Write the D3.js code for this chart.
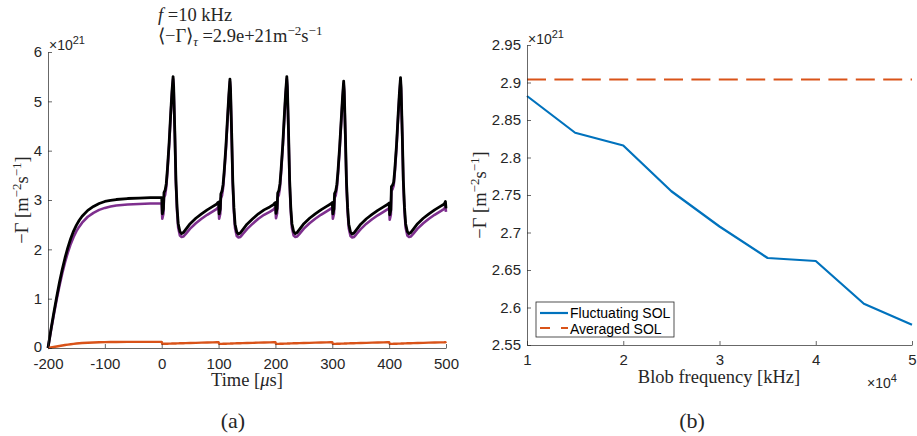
<!DOCTYPE html>
<html><head><meta charset="utf-8">
<script src="https://cdn.jsdelivr.net/npm/d3@7"></script>
<style>
body{margin:0;background:#fff;}
svg{display:block;}
.tick text{font-family:"Liberation Sans",Arial,sans-serif;font-size:15px;fill:#262626;}
.serif{font-family:"Liberation Serif","Times New Roman",serif;fill:#262626;}
</style></head>
<body>
<svg id="chart" width="917" height="436"></svg>
<script>
// ---------- Panel (a) data ----------
const timeUs = [
 -200,-195,-190,-185,-180,-175,-170,-165,-160,-155,-150,-145,-140,-130,-120,-110,-100,-90,-80,-60,-40,-20,
 0,1,3,4,6,8,10,13,16,18,20,21,23,25,27,29,32,35,38,42,50,60,70,80,90,97,99,
 100,101,103,104,106,108,110,113,116,118,120,121,123,125,127,129,132,135,138,142,150,160,170,180,190,197,199,
 200,201,203,204,206,208,210,213,216,218,220,221,223,225,227,229,232,235,238,242,250,260,270,280,290,297,299,
 300,301,303,304,306,308,310,313,316,318,320,321,323,325,327,329,332,335,338,342,350,360,370,380,390,397,399,
 400,401,403,404,406,408,410,413,416,418,420,421,423,425,427,429,432,435,438,442,450,460,470,480,490,497,499,
 500
];
const fluxBlack = [
 0,0.36,0.70,1.02,1.32,1.59,1.83,2.04,2.22,2.37,2.49,2.59,2.67,2.79,2.87,2.93,2.97,2.99,3.01,3.03,3.04,3.05,
 3.05,2.72,2.82,3.15,3.20,3.33,3.62,4.15,4.80,5.20,5.50,5.30,4.40,3.40,2.85,2.52,2.36,2.32,2.34,2.40,2.52,2.63,2.72,2.80,2.87,2.92,2.95,
 2.96,2.72,2.82,3.12,3.18,3.32,3.60,4.10,4.72,5.12,5.45,5.26,4.36,3.38,2.84,2.51,2.35,2.31,2.33,2.39,2.51,2.62,2.72,2.80,2.86,2.91,2.94,
 2.95,2.73,2.83,3.14,3.19,3.33,3.62,4.14,4.78,5.18,5.50,5.30,4.40,3.40,2.85,2.52,2.36,2.32,2.34,2.40,2.52,2.63,2.72,2.80,2.87,2.92,2.94,
 2.95,2.72,2.82,3.13,3.18,3.31,3.58,4.08,4.68,5.08,5.41,5.22,4.33,3.36,2.84,2.51,2.35,2.31,2.33,2.39,2.51,2.62,2.71,2.79,2.86,2.91,2.93,
 2.94,2.70,2.80,3.27,3.30,3.36,3.62,4.12,4.76,5.16,5.48,5.28,4.38,3.39,2.85,2.52,2.36,2.32,2.34,2.40,2.52,2.63,2.72,2.80,2.87,2.92,2.97,
 2.83
];
const fluxPurple = [
 0,0.34,0.66,0.97,1.25,1.51,1.74,1.94,2.11,2.25,2.37,2.46,2.54,2.66,2.74,2.80,2.84,2.87,2.89,2.91,2.92,2.93,
 2.93,2.62,2.72,3.05,3.10,3.26,3.56,4.10,4.75,5.15,5.45,5.25,4.35,3.32,2.77,2.44,2.28,2.25,2.26,2.31,2.42,2.53,2.62,2.70,2.77,2.82,2.85,
 2.85,2.62,2.72,3.03,3.09,3.25,3.54,4.05,4.67,5.07,5.40,5.21,4.31,3.30,2.76,2.43,2.27,2.24,2.25,2.30,2.41,2.52,2.62,2.70,2.76,2.81,2.84,
 2.84,2.63,2.73,3.05,3.10,3.26,3.56,4.09,4.73,5.13,5.45,5.25,4.35,3.32,2.77,2.44,2.28,2.25,2.26,2.31,2.42,2.53,2.62,2.70,2.77,2.82,2.84,
 2.84,2.62,2.72,3.04,3.09,3.24,3.52,4.03,4.63,5.03,5.36,5.17,4.28,3.28,2.76,2.43,2.27,2.24,2.25,2.30,2.41,2.52,2.61,2.69,2.76,2.81,2.83,
 2.83,2.60,2.70,3.18,3.22,3.29,3.56,4.07,4.71,5.11,5.43,5.23,4.33,3.31,2.77,2.44,2.28,2.25,2.26,2.31,2.42,2.53,2.62,2.70,2.77,2.82,2.87,
 2.76
];
const fluxOrange = [
 0,0.01,0.02,0.03,0.04,0.05,0.06,0.068,0.076,0.083,0.09,0.096,0.1,0.107,0.112,0.116,0.119,0.121,0.122,0.124,0.125,0.125,
 0.125,0.085,0.085,0.085,0.086,0.086,0.087,0.088,0.089,0.09,0.09,0.09,0.091,0.092,0.093,0.094,0.095,0.096,0.097,0.098,0.1,0.104,0.108,0.111,0.114,0.116,0.117,
 0.117,0.083,0.083,0.084,0.084,0.085,0.086,0.087,0.088,0.089,0.089,0.09,0.091,0.092,0.093,0.094,0.095,0.096,0.097,0.098,0.1,0.104,0.108,0.111,0.114,0.116,0.117,
 0.117,0.083,0.083,0.084,0.084,0.085,0.086,0.087,0.088,0.089,0.089,0.09,0.091,0.092,0.093,0.094,0.095,0.096,0.097,0.098,0.1,0.104,0.108,0.111,0.114,0.116,0.117,
 0.117,0.083,0.083,0.084,0.084,0.085,0.086,0.087,0.088,0.089,0.089,0.09,0.091,0.092,0.093,0.094,0.095,0.096,0.097,0.098,0.1,0.104,0.108,0.111,0.114,0.116,0.117,
 0.117,0.083,0.083,0.084,0.084,0.085,0.086,0.087,0.088,0.089,0.089,0.09,0.091,0.092,0.093,0.094,0.095,0.096,0.097,0.098,0.1,0.104,0.108,0.111,0.114,0.116,0.118,
 0.1
];
const xTicksA = [-200,-100,0,100,200,300,400,500];
const yTicksA = [0,1,2,3,4,5,6];

// ---------- Panel (b) data ----------
const blobFreq = [1,1.5,2,2.5,3,3.5,4,4.5,5];          // x 10^4
const fluxFluctuating = [2.882,2.833,2.816,2.755,2.708,2.666,2.662,2.605,2.577]; // x 10^21
const freqAveraged = [1,5];
const fluxAveraged = [2.904,2.904];
const xTicksB = [1,2,3,4,5];
const yTicksB = [2.55,2.6,2.65,2.7,2.75,2.8,2.85,2.9,2.95];
const legendLabels = ["Fluctuating SOL","Averaged SOL"];

const svg = d3.select("#chart");
const axisColor = "#262626";
const serifSize = "18.5px";

function styleAxis(g){
  g.select(".domain").attr("stroke",axisColor).attr("stroke-width",0.7);
  g.selectAll(".tick line").attr("stroke",axisColor).attr("stroke-width",0.7);
}

// ================= Panel (a) =================
const xA = d3.scaleLinear().domain([-200,500]).range([48,446]);
const yA = d3.scaleLinear().domain([0,6]).range([348,52]);

const lineA = (vals) => d3.line().x((d,i)=>xA(timeUs[i])).y(d=>yA(d))(vals);

svg.append("path").attr("d",lineA(fluxPurple)).attr("fill","none")
  .attr("stroke","#7E2F8E").attr("stroke-width",2.6).attr("stroke-linejoin","round");
svg.append("path").attr("d",lineA(fluxBlack)).attr("fill","none")
  .attr("stroke","#000").attr("stroke-width",2.8).attr("stroke-linejoin","round");
svg.append("path").attr("d",lineA(fluxOrange)).attr("fill","none")
  .attr("stroke","#D95319").attr("stroke-width",2.4).attr("stroke-linejoin","round");

const gxA = svg.append("g").attr("transform","translate(0,348)")
  .call(d3.axisBottom(xA).tickValues(xTicksA).tickFormat(d=>String(d)).tickSizeInner(-4).tickSizeOuter(0).tickPadding(10));
styleAxis(gxA);
const gyA = svg.append("g").attr("transform","translate(48,0)")
  .call(d3.axisLeft(yA).tickValues(yTicksA).tickFormat(d=>String(d)).tickSizeInner(-4).tickSizeOuter(0).tickPadding(6));
styleAxis(gyA);
gyA.selectAll(".tick text").filter(d=>d===0).attr("dy","0.2em");

// exponent label (a)
const expA = svg.append("text").attr("x",49).attr("y",50)
  .style("font-family","Liberation Sans, Arial, sans-serif").style("font-size","14px").attr("fill",axisColor);
expA.append("tspan").text("×10");
expA.append("tspan").attr("dy",-6).style("font-size","11px").text("21");

// title
const t1 = svg.append("text").attr("class","serif").attr("x",158).attr("y",21).style("font-size",serifSize).attr("fill","#111");
t1.append("tspan").style("font-style","italic").text("f");
t1.append("tspan").text(" =10 kHz");
const t2 = svg.append("text").attr("class","serif").attr("x",158).attr("y",42).style("font-size",serifSize).attr("fill","#111");
t2.append("tspan").text("⟨−Γ⟩");
t2.append("tspan").attr("dy",4).style("font-size","13px").style("font-style","italic").text("τ");
t2.append("tspan").attr("dy",-4).text(" =2.9e+21m");
t2.append("tspan").attr("dy",-7).style("font-size","13px").text("−2");
t2.append("tspan").attr("dy",7).text("s");
t2.append("tspan").attr("dy",-7).style("font-size","13px").text("−1");

function yLabel(x,y){
  const t = svg.append("text").attr("class","serif")
    .attr("transform",`translate(${x},${y}) rotate(-90)`).attr("text-anchor","middle")
    .style("font-size",serifSize);
  t.append("tspan").text("−Γ [m");
  t.append("tspan").attr("dy",-7).style("font-size","13px").text("−2");
  t.append("tspan").attr("dy",7).text("s");
  t.append("tspan").attr("dy",-7).style("font-size","13px").text("−1");
  t.append("tspan").attr("dy",7).text("]");
}
yLabel(28,200);

const xlA = svg.append("text").attr("class","serif").attr("x",247).attr("y",386)
  .attr("text-anchor","middle").style("font-size",serifSize);
xlA.append("tspan").text("Time [");
xlA.append("tspan").style("font-style","italic").text("μ");
xlA.append("tspan").text("s]");

svg.append("text").attr("class","serif").attr("x",233).attr("y",428).attr("text-anchor","middle")
  .style("font-size","22px").attr("fill","#222").text("(a)");

// ================= Panel (b) =================
const xB = d3.scaleLinear().domain([1,5]).range([527,912]);
const yB = d3.scaleLinear().domain([2.55,2.95]).range([345,45]);

svg.append("path")
  .attr("d",d3.line().x((d,i)=>xB(freqAveraged[i])).y(d=>yB(d))(fluxAveraged))
  .attr("fill","none").attr("stroke","#D95319").attr("stroke-width",2.2).attr("stroke-dasharray","19,8.4");
svg.append("path")
  .attr("d",d3.line().x((d,i)=>xB(blobFreq[i])).y(d=>yB(d))(fluxFluctuating))
  .attr("fill","none").attr("stroke","#0072BD").attr("stroke-width",2.2).attr("stroke-linejoin","round");

const gxB = svg.append("g").attr("transform","translate(0,345)")
  .call(d3.axisBottom(xB).tickValues(xTicksB).tickFormat(d=>String(d)).tickSizeInner(-4).tickSizeOuter(0).tickPadding(9));
styleAxis(gxB);
const gyB = svg.append("g").attr("transform","translate(527,0)")
  .call(d3.axisLeft(yB).tickValues(yTicksB).tickFormat(d=>String(+d.toFixed(2))).tickSizeInner(-4).tickSizeOuter(0).tickPadding(6));
styleAxis(gyB);

const expB = svg.append("text").attr("x",528).attr("y",44)
  .style("font-family","Liberation Sans, Arial, sans-serif").style("font-size","14px").attr("fill",axisColor);
expB.append("tspan").text("×10");
expB.append("tspan").attr("dy",-6).style("font-size","11px").text("21");

const expBx = svg.append("text").attr("x",867).attr("y",388)
  .style("font-family","Liberation Sans, Arial, sans-serif").style("font-size","14px").attr("fill",axisColor);
expBx.append("tspan").text("×10");
expBx.append("tspan").attr("dy",-6).style("font-size","11px").text("4");

yLabel(486,195);

svg.append("text").attr("class","serif").attr("x",719).attr("y",383).attr("text-anchor","middle")
  .style("font-size",serifSize).text("Blob frequency [kHz]");

svg.append("text").attr("class","serif").attr("x",692).attr("y",428).attr("text-anchor","middle")
  .style("font-size","22px").attr("fill","#222").text("(b)");

// legend
const lg = svg.append("g");
lg.append("rect").attr("x",536).attr("y",302).attr("width",138).attr("height",35)
  .attr("fill","#fff").attr("stroke",axisColor).attr("stroke-width",0.8);
lg.append("line").attr("x1",540).attr("x2",568).attr("y1",313).attr("y2",313)
  .attr("stroke","#0072BD").attr("stroke-width",2.2);
lg.append("line").attr("x1",540).attr("x2",568).attr("y1",328).attr("y2",328)
  .attr("stroke","#D95319").attr("stroke-width",2.2).attr("stroke-dasharray","10,11,7");
legendLabels.forEach((lab,i)=>{
  lg.append("text").attr("x",570).attr("y",318+i*15.5)
    .style("font-family","Liberation Sans, Arial, sans-serif").style("font-size","14px")
    .attr("fill","#000").text(lab);
});
</script>
</body></html>
